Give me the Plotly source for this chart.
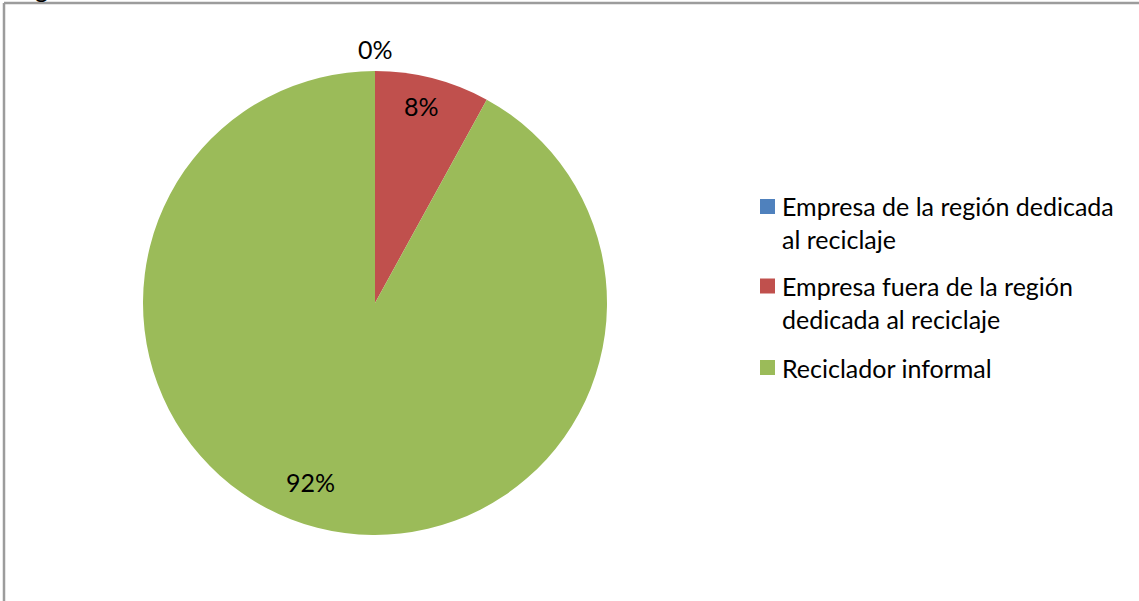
import math
import plotly.graph_objects as go

# Destino de los residuos reciclables
categorias = [
    "Empresa de la región dedicada al reciclaje",
    "Empresa fuera de la región dedicada al reciclaje",
    "Reciclador informal",
]
etiquetas_leyenda = [
    "Empresa de la región dedicada<br>al reciclaje",
    "Empresa fuera de la región<br>dedicada al reciclaje",
    "Reciclador informal",
]
porcentajes = [0, 8, 92]
colores = ["#4F81BD", "#C0504D", "#9BBB59"]

W, H = 1139, 601
FONT = "Lato"
FS = 25

# pie geometry (pixels)
cx, cy, R = 375, 303, 232

fig = go.Figure(
    go.Pie(
        labels=categorias,
        values=porcentajes,
        marker=dict(colors=colores, line=dict(width=0)),
        sort=False,
        direction="clockwise",
        rotation=0,
        textinfo="none",
        hoverinfo="label+percent",
        showlegend=False,
        domain=dict(
            x=[(cx - R) / W, (cx + R) / W],
            y=[(H - cy - R) / H, (H - cy + R) / H],
        ),
    )
)

annotations = []

# data labels placed along each slice's mid angle
label_radius = [1.095, 0.87, 0.82]
label_nudge_deg = [0, -1.2, 5.3]
total = sum(porcentajes)
acum = 0
for v, rf, nd in zip(porcentajes, label_radius, label_nudge_deg):
    mid = (acum + v / 2) / total * 360 + nd
    acum += v
    px = cx + rf * R * math.sin(math.radians(mid))
    py = cy - rf * R * math.cos(math.radians(mid))
    annotations.append(dict(
        x=px / W, y=1 - py / H, xref="paper", yref="paper",
        text=f"{round(v / total * 100)}%", showarrow=False,
        xanchor="center", yanchor="middle",
        font=dict(family=FONT, size=FS, color="#000000"),
    ))

# legend: square markers with wrapped text
shapes = []
sq_x0, sq = 760, 15
txt_x = 780
line_h = 32.5
row_y = [206.5, 286, 367.5]
for etq, col, yc in zip(etiquetas_leyenda, colores, row_y):
    shapes.append(dict(
        type="rect", xref="paper", yref="paper",
        x0=sq_x0 / W, x1=(sq_x0 + sq) / W,
        y0=1 - (yc + sq / 2) / H, y1=1 - (yc - sq / 2) / H,
        fillcolor=col, line=dict(width=0),
    ))
    n = etq.count("<br>") + 1
    yb = yc + (n - 1) * line_h / 2
    annotations.append(dict(
        x=txt_x / W, y=1 - yb / H, xref="paper", yref="paper",
        text=etq, showarrow=False, align="left",
        xanchor="left", yanchor="middle",
        font=dict(family=FONT, size=FS, color="#000000"),
    ))

# chart area border
bx, by = 4, 3
shapes.append(dict(type="line", xref="paper", yref="paper",
                   x0=bx / W, x1=1.01, y0=1 - by / H, y1=1 - by / H,
                   line=dict(color="#9C9C9C", width=2.5)))
shapes.append(dict(type="line", xref="paper", yref="paper",
                   x0=bx / W, x1=bx / W, y0=1 - by / H, y1=-0.01,
                   line=dict(color="#9C9C9C", width=2.5)))

# heading text above the chart area (only its descender falls inside)
annotations.append(dict(
    x=41 / W, y=1 + 12 / H, xref="paper", yref="paper",
    text="g", showarrow=False, xanchor="center", yanchor="middle",
    font=dict(family=FONT, size=FS, color="#000000"),
))

fig.update_layout(
    width=W, height=H,
    margin=dict(l=0, r=0, t=0, b=0),
    paper_bgcolor="#FFFFFF",
    plot_bgcolor="#FFFFFF",
    shapes=shapes,
    annotations=annotations,
)

fig.write_html("out.html")
